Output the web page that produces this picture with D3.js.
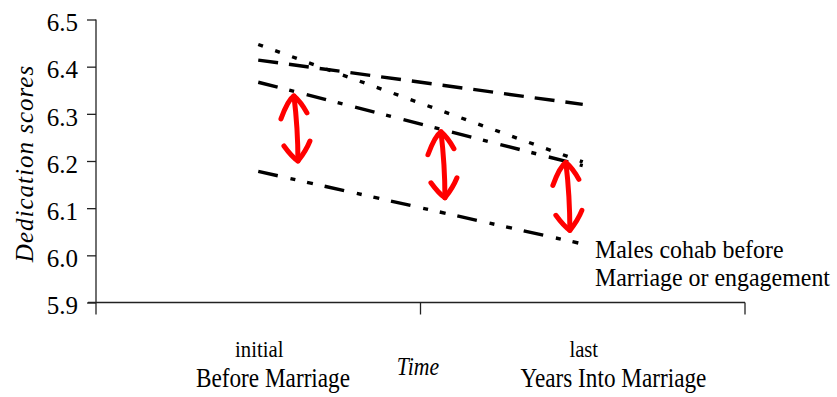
<!DOCTYPE html>
<html><head><meta charset="utf-8">
<script src="https://cdn.jsdelivr.net/npm/d3@7"></script>
<style>body{margin:0;background:#fff}svg{display:block}</style>
</head><body>
<script>
const categories = ["initial", "last"];
const categorySubLabels = ["Before Marriage", "Years Into Marriage"];
const yTicks = [5.9, 6.0, 6.1, 6.2, 6.3, 6.4, 6.5];
const seriesLongDash = [6.414, 6.320];
const seriesDotted = [6.447, 6.198];
const seriesDashDot = [6.367, 6.190];
const seriesDashDotDot = [6.178, 6.024];
const legendLines = ["Males cohab before", "Marriage or engagement"];
// annotation arrows: position between categories (0..1) and value range
const arrowPos = [0.11, 0.563, 0.948];
const arrowTop = [6.338, 6.262, 6.197];
const arrowBottom = [6.200, 6.122, 6.053];

const FONT = '"Liberation Serif"';
const W = 837, H = 397;
const svg = d3.select("body").append("svg").attr("width", W).attr("height", H);
const y = d3.scaleLinear().domain([5.9, 6.5]).range([302.5, 19.5]);
const x = d3.scaleBand().domain(categories).range([96, 745]).padding(0);
const cx = c => x(c) + x.bandwidth() / 2;
const t = d3.scaleLinear().domain([0, 1]).range([cx(categories[0]), cx(categories[1])]);

function label(px, py, str, size, sx, anchor, italic) {
  return svg.append("text")
    .attr("transform", `translate(${px},${py}) scale(${sx},1)`)
    .attr("text-anchor", anchor || "start")
    .style("font-family", FONT).style("font-size", size + "px")
    .style("font-style", italic ? "italic" : "normal")
    .attr("fill", "#000").text(str);
}

// y axis
const yAxis = svg.append("g").attr("transform", "translate(96,0)")
  .call(d3.axisLeft(y).tickValues(yTicks).tickFormat(d3.format(".1f")).tickSize(9).tickPadding(9));
yAxis.attr("font-family", null);
yAxis.select(".domain").attr("stroke", "#222").attr("stroke-width", 1.3).attr("d", `M0,${y(6.5)}V${y(5.9)}`);
yAxis.selectAll(".tick line").attr("stroke", "#222").attr("stroke-width", 1.3);
yAxis.selectAll(".tick text").style("font-family", FONT).style("font-size", "25px").attr("fill", "#000").attr("dy", "0.45em");

// x axis
const xAxis = svg.append("g");
xAxis.append("line").attr("x1", 88).attr("x2", 745).attr("y1", y(5.9)).attr("y2", y(5.9)).attr("stroke", "#222").attr("stroke-width", 1.3);
[x(categories[0]), x(categories[1]), x(categories[1]) + x.bandwidth()].forEach(px =>
  xAxis.append("line").attr("x1", px).attr("x2", px).attr("y1", y(5.9)).attr("y2", y(5.9) + 12).attr("stroke", "#222").attr("stroke-width", 1.3));
categories.forEach((c, i) => {
  label(cx(c) + 1, 357, c, 23, 0.9, "middle");
  label(x(c) + 100, 387, categorySubLabels[i], 27, 0.86, "start");
});
label(418, 375, "Time", 25, 0.87, "middle", true);

// y title
svg.append("text").attr("transform", `translate(33,163.5) rotate(-90)`).attr("text-anchor", "middle")
  .style("font-family", FONT).style("font-size", "25px").style("font-style", "italic")
  .style("letter-spacing", "1px").attr("fill", "#000").text("Dedication scores");

// series
const line = d3.line().x((d, i) => cx(categories[i])).y(d => y(d));
const series = [
  {v: seriesLongDash, dash: "20,11"},
  {v: seriesDotted, dash: "5,13"},
  {v: seriesDashDot, dash: "20,12,5,13"},
  {v: seriesDashDotDot, dash: "20,13,5,12,6,12"}
];
svg.selectAll("path.series").data(series).enter().append("path").attr("class", "series")
  .attr("d", d => line(d.v)).attr("fill", "none").attr("stroke", "#000")
  .attr("stroke-width", 3.4).attr("stroke-dasharray", d => d.dash);

// legend text
legendLines.forEach((s, i) => label(595, 258 + i * 28, s, 26, 0.92, "start"));

// red arrows
arrowPos.forEach((p, i) => {
  const xt = t(p), yt = y(arrowTop[i]), yb = y(arrowBottom[i]);
  const xb = xt + 4;
  const g = svg.append("g").attr("fill", "none").attr("stroke", "#ff0000").attr("stroke-width", 5)
    .attr("stroke-linecap", "round").attr("stroke-linejoin", "round");
  g.append("path").attr("d", `M${xt},${yt} Q${xt + 4},${(yt + yb) / 2} ${xb},${yb}`);
  g.append("path").attr("d", `M${xt - 13},${yt + 23} Q${xt - 6},${yt + 4} ${xt},${yt} Q${xt + 7},${yt + 6} ${xt + 13},${yt + 17}`);
  g.append("path").attr("d", `M${xb - 14},${yb - 15} Q${xb - 6},${yb - 4} ${xb},${yb} Q${xb + 8},${yb - 10} ${xb + 12},${yb - 20}`);
});
</script>
</body></html>
